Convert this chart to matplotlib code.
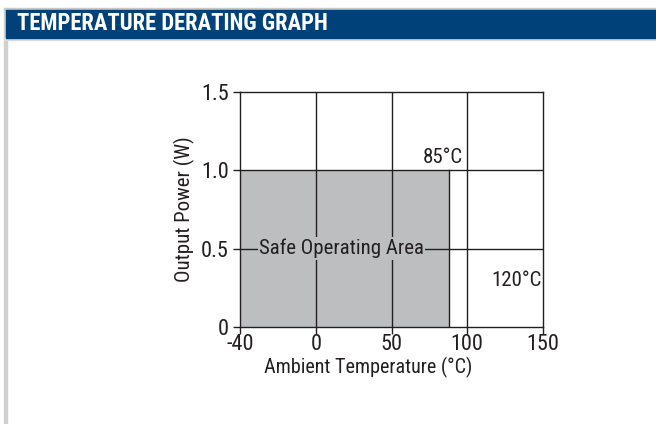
import matplotlib.pyplot as plt
from matplotlib.patches import Rectangle

# data
x_ticks = [-40, 0, 50, 100, 150]
y_ticks = [0, 0.5, 1.0, 1.5]
y_tick_labels = ["0", "0.5", "1.0", "1.5"]
safe_temp = [-40, 88]
safe_power = 1.0
title = "TEMPERATURE DERATING GRAPH"

plt.rcParams["font.family"] = ["Roboto Condensed", "Archivo Narrow", "Liberation Sans", "DejaVu Sans"]

INK = "#231f20"
FS = 15


def to_pos(t):
    """Ticks are evenly spaced, so the -40..0 span is stretched."""
    return t * 50 / 40 if t < 0 else t


fig = plt.figure(figsize=(6.56, 4.24), dpi=100)

# page frame and header bar
fig.patches.append(Rectangle((4 / 656, 0), 2.5 / 656, 1 - 8 / 424, transform=fig.transFigure,
                             color="#d0d0d0", zorder=0))
fig.patches.append(Rectangle((4 / 656, 1 - 10 / 424), 1, 2 / 424, transform=fig.transFigure,
                             color="#c8c8c8", zorder=0))
fig.patches.append(Rectangle((4 / 656, 1 - 40 / 424), 1, 2 / 424, transform=fig.transFigure,
                             color="#dcdcdc", zorder=0))
fig.patches.append(Rectangle((6 / 656, 1 - 38 / 424), 1, 28 / 424, transform=fig.transFigure,
                             color="#004179", zorder=1))
fig.text(17 / 656, 1 - 23.5 / 424, title, color="white", fontsize=16.3, fontweight="bold",
         va="center", ha="left")

ax = fig.add_axes([240 / 656, 1 - 327 / 424, 303 / 656, 235 / 424])
x_pos = [to_pos(t) for t in x_ticks]
ax.set_xlim(x_pos[0], x_pos[-1])
ax.set_ylim(y_ticks[0], y_ticks[-1])

ax.fill_between([to_pos(t) for t in safe_temp], 0, safe_power, facecolor="#bcbec0",
                edgecolor="none", zorder=1)
ax.plot([to_pos(safe_temp[1])] * 2, [0, safe_power], color=INK, lw=1.0, zorder=2)

for x in x_pos[1:-1]:
    ax.axvline(x, color=INK, lw=1.0, zorder=2)
for y in y_ticks[1:-1]:
    ax.axhline(y, color=INK, lw=1.0, zorder=2)

ax.set_xticks(x_pos)
ax.set_xticklabels([str(t) for t in x_ticks])
ax.set_yticks(y_ticks)
ax.set_yticklabels(y_tick_labels)
ax.tick_params(direction="out", length=5, width=1, colors=INK, labelsize=16)
ax.tick_params(axis="x", pad=0)
ax.tick_params(axis="y", pad=3)
for spine in ax.spines.values():
    spine.set_color(INK)
    spine.set_linewidth(1.0)

ax.set_xlabel("Ambient Temperature (°C)", fontsize=14.5, color=INK)
ax.xaxis.set_label_coords(0.422, -0.128)
ax.set_ylabel("Output Power (W)", fontsize=FS, color=INK, labelpad=4)

ax.text(17, 0.5, "Safe Operating Area", fontsize=FS, color=INK, ha="center", va="center",
        zorder=3, bbox=dict(facecolor="#bcbec0", edgecolor="none", pad=1))
ax.text(97, 1.083, "85°C", fontsize=FS, color=INK, ha="right", va="center", zorder=3)
ax.text(149, 0.295, "120°C", fontsize=FS, color=INK, ha="right", va="center", zorder=3)

fig.savefig("out.png", dpi=100)
